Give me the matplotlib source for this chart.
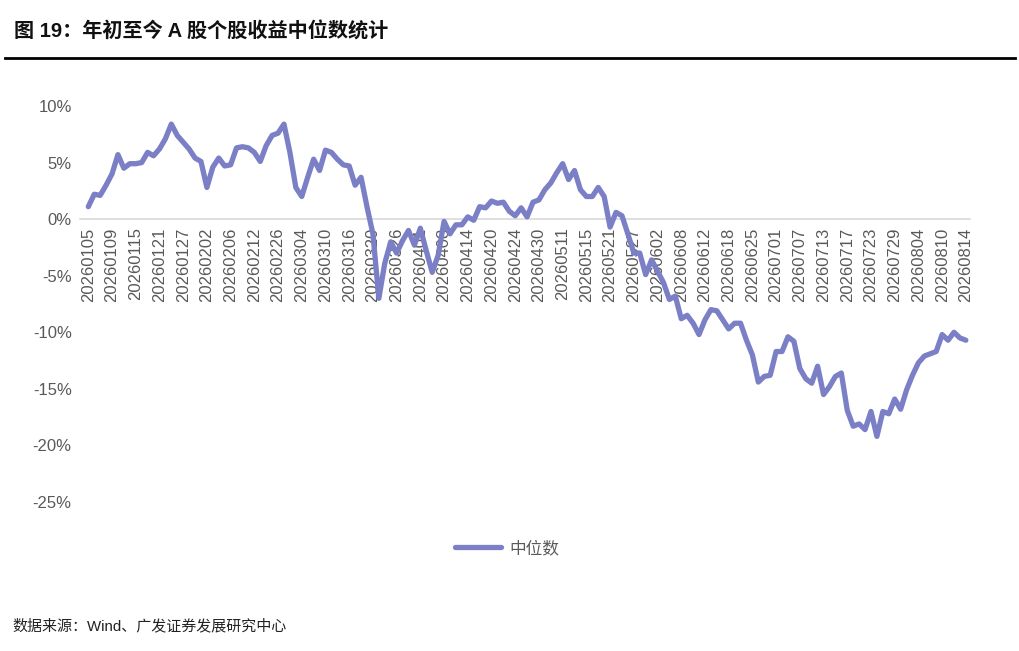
import matplotlib
matplotlib.use("Agg")
import matplotlib.pyplot as plt
import pandas as pd

# ---------------- data ----------------
holidays = ["2026-01-01", "2026-01-02", "2026-02-16", "2026-02-17", "2026-02-18",
            "2026-02-19", "2026-02-20", "2026-02-23", "2026-04-06", "2026-05-01",
            "2026-05-04", "2026-05-05", "2026-06-19"]
dates = [d.strftime("%Y%m%d") for d in pd.bdate_range("2026-01-05", "2026-08-14")
         if d.strftime("%Y-%m-%d") not in holidays]

median_ret = [
    1.1, 2.2, 2.1, 3.0, 4.0, 5.7, 4.5, 4.9, 4.9, 5.0,
    5.9, 5.6, 6.2, 7.1, 8.4, 7.4, 6.8, 6.2, 5.4, 5.1,
    2.8, 4.6, 5.4, 4.7, 4.8, 6.3, 6.4, 6.3, 5.9, 5.1,
    6.5, 7.4, 7.6, 8.4, 5.9, 2.8, 2.0, 3.7, 5.3, 4.3,
    6.1, 5.9, 5.3, 4.8, 4.7, 3.0, 3.7, 1.1, -1.3, -7.0,
    -3.9, -2.0, -3.0, -1.9, -1.0, -2.3, -0.8, -2.8, -4.7, -3.2,
    -0.2, -1.3, -0.5, -0.5, 0.2, -0.1, 1.1, 1.0, 1.6, 1.4,
    1.5, 0.7, 0.3, 1.0, 0.2, 1.5, 1.7, 2.6, 3.2, 4.1,
    4.9, 3.5, 4.3, 2.6, 2.0, 2.0, 2.8, 2.0, -0.7, 0.6,
    0.3, -1.3, -3.0, -3.0, -4.9, -3.6, -4.6, -5.6, -7.1, -6.8,
    -8.8, -8.5, -9.2, -10.2, -8.9, -8.0, -8.1, -8.9, -9.7, -9.2,
    -9.2, -10.7, -12.0, -14.4, -13.9, -13.8, -11.7, -11.7, -10.4, -10.8,
    -13.2, -14.1, -14.5, -13.0, -15.5, -14.8, -13.9, -13.6, -16.9, -18.3,
    -18.1, -18.6, -17.0, -19.2, -17.0, -17.2, -15.9, -16.8, -15.1, -13.8,
    -12.7, -12.1, -11.9, -11.7, -10.2, -10.7, -10.0, -10.5, -10.7,
]
series_name = "中位数"
tick_idx = list(range(0, len(dates), 4))
tick_labels = [dates[i] for i in tick_idx]
y_ticks = [10, 5, 0, -5, -10, -15, -20, -25]
y_tick_labels = ["10%", "5%", "0%", "-5%", "-10%", "-15%", "-20%", "-25%"]

title = "图 19：年初至今 A 股个股收益中位数统计"
source = "数据来源：Wind、广发证券发展研究中心"

# ---------------- style ----------------
plt.rcParams['font.family'] = ['Liberation Sans', 'Noto Sans CJK SC', 'DejaVu Sans']
line_color = "#7a7fc6"
grey = "#595959"

fig = plt.figure(figsize=(10.2, 6.51), dpi=100)
ax = fig.add_axes([80 / 1020, 1 - 502 / 651, 890 / 1020, (502 - 106) / 651])

for s in ["left", "right", "top"]:
    ax.spines[s].set_visible(False)
ax.spines["bottom"].set_position(("data", 0))
ax.spines["bottom"].set_color("#d9d9d9")
ax.spines["bottom"].set_linewidth(1.2)

x = list(range(len(median_ret)))
ax.plot(x, median_ret, color=line_color, lw=3.8, solid_joinstyle="round",
        solid_capstyle="round", label=series_name, zorder=3)

ax.set_xlim(-1.4, 148.7)
ax.set_ylim(-25, 10)
ax.set_yticks(y_ticks)
ax.set_yticklabels(y_tick_labels)
ax.set_xticks(tick_idx)
ax.set_xticklabels(tick_labels)
ax.tick_params(axis="y", length=0, pad=6, labelsize=12, labelcolor=grey)
ax.tick_params(axis="x", length=0, pad=6, labelsize=12, labelcolor=grey,
               labelrotation=90)
for lab in ax.get_xticklabels():
    lab.set_va("top")
    lab.set_ha("center")

leg = ax.legend(loc="center", bbox_to_anchor=((507 - 80) / 890, (502 - 548) / 396),
                frameon=False, fontsize=12, handlelength=2.8, handletextpad=0.5)
for t in leg.get_texts():
    t.set_color(grey)

fig.text(14 / 1020, 1 - 32 / 651, title, fontsize=14.5, fontweight="bold",
         family=['Liberation Sans', 'Noto Sans CJK SC'], va="center", ha="left", color="#111111")
fig.add_artist(plt.Line2D([5 / 1020, 1015 / 1020], [1 - 58 / 651, 1 - 58 / 651],
                          color="black", lw=2))
fig.text(12 / 1020, 1 - 626 / 651, source, fontsize=10.8, va="center", ha="left",
         color="#222222")

fig.savefig("out.png", dpi=100)
